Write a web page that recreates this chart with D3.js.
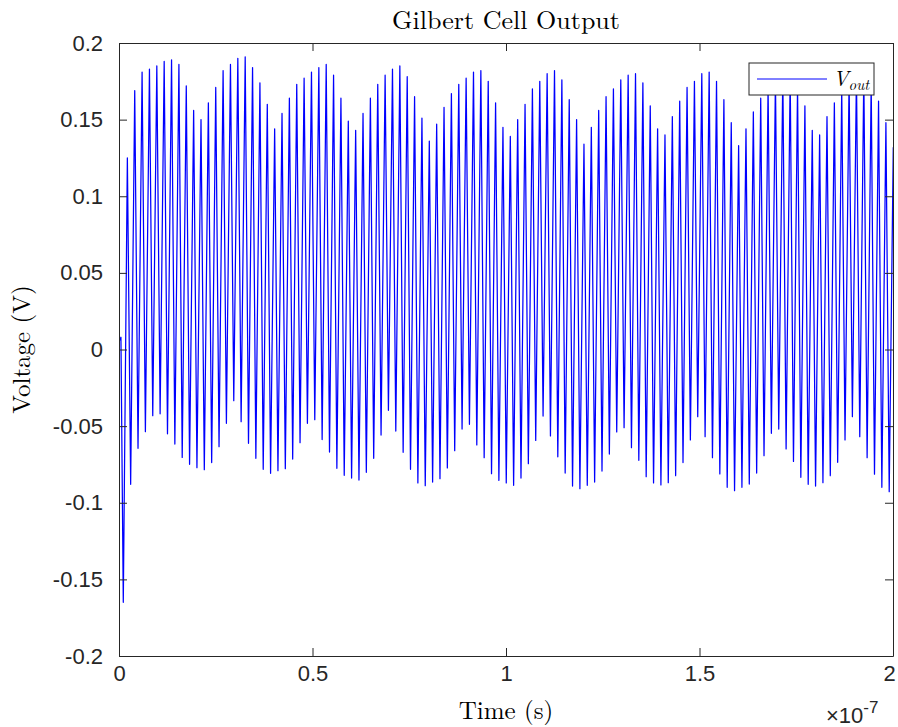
<!DOCTYPE html>
<html>
<head>
<meta charset="utf-8">
<script src="https://cdn.jsdelivr.net/npm/d3@7"></script>
<style>
  html, body { margin: 0; padding: 0; background: #fff; }
  svg { display: block; }
</style>
</head>
<body>
<svg id="chart" width="898" height="727"></svg>
<script>
// Gilbert cell mixer output, transient simulation (0 .. 200 ns)

// start-up samples [time (s), volts]
const startSamples = [[0, 0.005], [0.5e-9, 0.008]];

// successive minima of V_out (V), one per carrier cycle
const troughValues = [
  -0.165, -0.088, -0.0645, -0.0536, -0.0432, -0.042, -0.055, -0.0617, -0.0704, -0.0749,
  -0.0771, -0.0784, -0.0738, -0.0634, -0.0482, -0.0334, -0.0471, -0.0612, -0.071, -0.0782,
  -0.0808, -0.0791, -0.0778, -0.0715, -0.0608, -0.0482, -0.0458, -0.0588, -0.0669, -0.0775,
  -0.0821, -0.0839, -0.0852, -0.0801, -0.071, -0.0558, -0.0397, -0.0532, -0.0671, -0.0782,
  -0.0871, -0.0889, -0.0865, -0.0843, -0.0773, -0.066, -0.0519, -0.0488, -0.0623, -0.0706,
  -0.081, -0.0854, -0.0871, -0.0886, -0.0839, -0.0745, -0.0593, -0.0434, -0.0564, -0.070,
  -0.0806, -0.0891, -0.0908, -0.0886, -0.0865, -0.0793, -0.0682, -0.0538, -0.051, -0.0641,
  -0.0723, -0.083, -0.0871, -0.0884, -0.0869, -0.0823, -0.0738, -0.059, -0.0438, -0.0569,
  -0.0706, -0.0812, -0.0899, -0.0921, -0.0899, -0.0878, -0.0806, -0.0693, -0.0547, -0.0519,
  -0.0649, -0.073, -0.0834, -0.088, -0.0891, -0.0869, -0.0823, -0.0736, -0.059, -0.0438,
  -0.0569, -0.0706, -0.0814, -0.0899, -0.0928
];

// successive maxima of V_out (V), one per carrier cycle
const peakValues = [
  0.125, 0.169, 0.181, 0.183, 0.185, 0.188, 0.189, 0.186, 0.172, 0.156,
  0.150, 0.161, 0.171, 0.182, 0.186, 0.190, 0.191, 0.184, 0.174, 0.160,
  0.144, 0.154, 0.164, 0.173, 0.177, 0.181, 0.184, 0.186, 0.179, 0.164,
  0.149, 0.143, 0.154, 0.164, 0.173, 0.179, 0.183, 0.185, 0.178, 0.165,
  0.151, 0.136, 0.147, 0.158, 0.167, 0.173, 0.177, 0.181, 0.182, 0.175,
  0.161, 0.145, 0.139, 0.150, 0.160, 0.170, 0.175, 0.180, 0.182, 0.176,
  0.163, 0.150, 0.134, 0.145, 0.156, 0.165, 0.170, 0.176, 0.179, 0.180,
  0.174, 0.159, 0.144, 0.140, 0.152, 0.162, 0.171, 0.175, 0.180, 0.181,
  0.175, 0.163, 0.148, 0.133, 0.144, 0.155, 0.164, 0.171, 0.177, 0.180,
  0.179, 0.172, 0.159, 0.143, 0.140, 0.152, 0.161, 0.170, 0.176, 0.180,
  0.180, 0.174, 0.162, 0.148, 0.132
];

// carrier timing (s)
const firstTroughTime = 1.11e-9;
const carrierPeriod = 1.903e-9;
const riseTime = 1.05e-9;

const xTickValues = [0, 0.5e-7, 1e-7, 1.5e-7, 2e-7];
const xTickLabels = ["0", "0.5", "1", "1.5", "2"];
const yTickValues = [0.2, 0.15, 0.1, 0.05, 0, -0.05, -0.1, -0.15, -0.2];
const yTickLabels = ["0.2", "0.15", "0.1", "0.05", "0", "-0.05", "-0.1", "-0.15", "-0.2"];

const W = 898, H = 727;
const margin = { left: 119, right: 5, top: 43, bottom: 71 };
const innerW = W - margin.left - margin.right;
const innerH = H - margin.top - margin.bottom;

const axisColor = "#262626";
const sansFont = "'Liberation Sans', Arial, Helvetica, sans-serif";
const serifFont = "'Latin Modern Roman', 'CMU Serif', 'Liberation Serif', 'DejaVu Serif', serif";

// assemble the waveform samples
const samples = startSamples.map(([t, v]) => ({ t, v }));
troughValues.forEach((tv, i) => {
  const tt = firstTroughTime + i * carrierPeriod;
  samples.push({ t: tt, v: tv });
  samples.push({ t: tt + riseTime, v: peakValues[i] });
});

const x = d3.scaleLinear().domain([0, 2e-7]).range([0, innerW]);
const y = d3.scaleLinear().domain([-0.2, 0.2]).range([innerH, 0]);

const svg = d3.select("#chart");
svg.append("rect").attr("width", W).attr("height", H).attr("fill", "#fff");

const defs = svg.append("defs");
defs.append("clipPath").attr("id", "plotClip")
  .append("rect").attr("width", innerW).attr("height", innerH);

const g = svg.append("g").attr("transform", `translate(${margin.left},${margin.top})`);

// signal trace
g.append("path")
  .datum(samples)
  .attr("clip-path", "url(#plotClip)")
  .attr("fill", "none")
  .attr("stroke", "#0000ff")
  .attr("stroke-width", 1.25)
  .attr("stroke-linejoin", "round")
  .attr("d", d3.line().x(d => x(d.t)).y(d => y(d.v)));

// axes with inward ticks on all four sides
const tickLen = 8;
function styleAxis(sel) {
  sel.selectAll(".domain").attr("stroke", axisColor).attr("stroke-width", 1);
  sel.selectAll(".tick line").attr("stroke", axisColor).attr("stroke-width", 1);
  sel.selectAll(".tick text")
    .attr("fill", axisColor)
    .attr("font-family", sansFont)
    .attr("font-size", 22);
}

const xBottom = g.append("g").attr("transform", `translate(0,${innerH})`)
  .call(d3.axisBottom(x).tickValues(xTickValues)
    .tickFormat((d, i) => xTickLabels[i]).tickSizeInner(-tickLen).tickSizeOuter(0).tickPadding(16));
styleAxis(xBottom);
xBottom.selectAll(".tick text").attr("dy", "0.71em").attr("y", 9);
// keep the last label inside the canvas
xBottom.selectAll(".tick text").filter((d, i, n) => i === n.length - 1).attr("x", -4);

const xTop = g.append("g")
  .call(d3.axisTop(x).tickValues(xTickValues).tickFormat("").tickSizeInner(-tickLen).tickSizeOuter(0));
styleAxis(xTop);

const yLeft = g.append("g")
  .call(d3.axisLeft(y).tickValues(yTickValues)
    .tickFormat((d, i) => yTickLabels[i]).tickSizeInner(-tickLen).tickSizeOuter(0).tickPadding(16));
styleAxis(yLeft);
yLeft.selectAll(".tick text").attr("x", -16);

const yRight = g.append("g").attr("transform", `translate(${innerW},0)`)
  .call(d3.axisRight(y).tickValues(yTickValues).tickFormat("").tickSizeInner(-tickLen).tickSizeOuter(0));
styleAxis(yRight);

// exponent marker for the time axis
const expo = svg.append("text")
  .attr("x", 826).attr("y", 723)
  .attr("fill", axisColor)
  .attr("font-family", sansFont)
  .attr("font-size", 22);
expo.append("tspan").text("\u00d710");
expo.append("tspan").attr("dy", -10).attr("font-size", 17).text("-7");

// title and axis labels
svg.append("text")
  .attr("x", margin.left + innerW / 2).attr("y", 29)
  .attr("text-anchor", "middle")
  .attr("font-family", serifFont).attr("font-size", 26).attr("fill", "#000")
  .text("Gilbert Cell Output");

svg.append("text")
  .attr("x", margin.left + innerW / 2).attr("y", 719)
  .attr("text-anchor", "middle")
  .attr("font-family", serifFont).attr("font-size", 25).attr("fill", "#000")
  .text("Time (s)");

svg.append("text")
  .attr("transform", `translate(30,${margin.top + innerH / 2}) rotate(-90)`)
  .attr("text-anchor", "middle")
  .attr("font-family", serifFont).attr("font-size", 25).attr("fill", "#000")
  .text("Voltage (V)");

// legend
const legend = svg.append("g").attr("transform", "translate(749,63)");
legend.append("rect")
  .attr("width", 125).attr("height", 32)
  .attr("fill", "#fff").attr("stroke", axisColor).attr("stroke-width", 1);
legend.append("line")
  .attr("x1", 8).attr("x2", 78).attr("y1", 16).attr("y2", 16)
  .attr("stroke", "#0000ff").attr("stroke-width", 1);
const legText = legend.append("text")
  .attr("x", 84).attr("y", 23)
  .attr("font-family", serifFont).attr("font-style", "italic")
  .attr("font-size", 21).attr("fill", "#000");
legText.append("tspan").text("V");
legText.append("tspan").attr("dy", 4).attr("font-size", 15).text("out");
</script>
</body>
</html>
